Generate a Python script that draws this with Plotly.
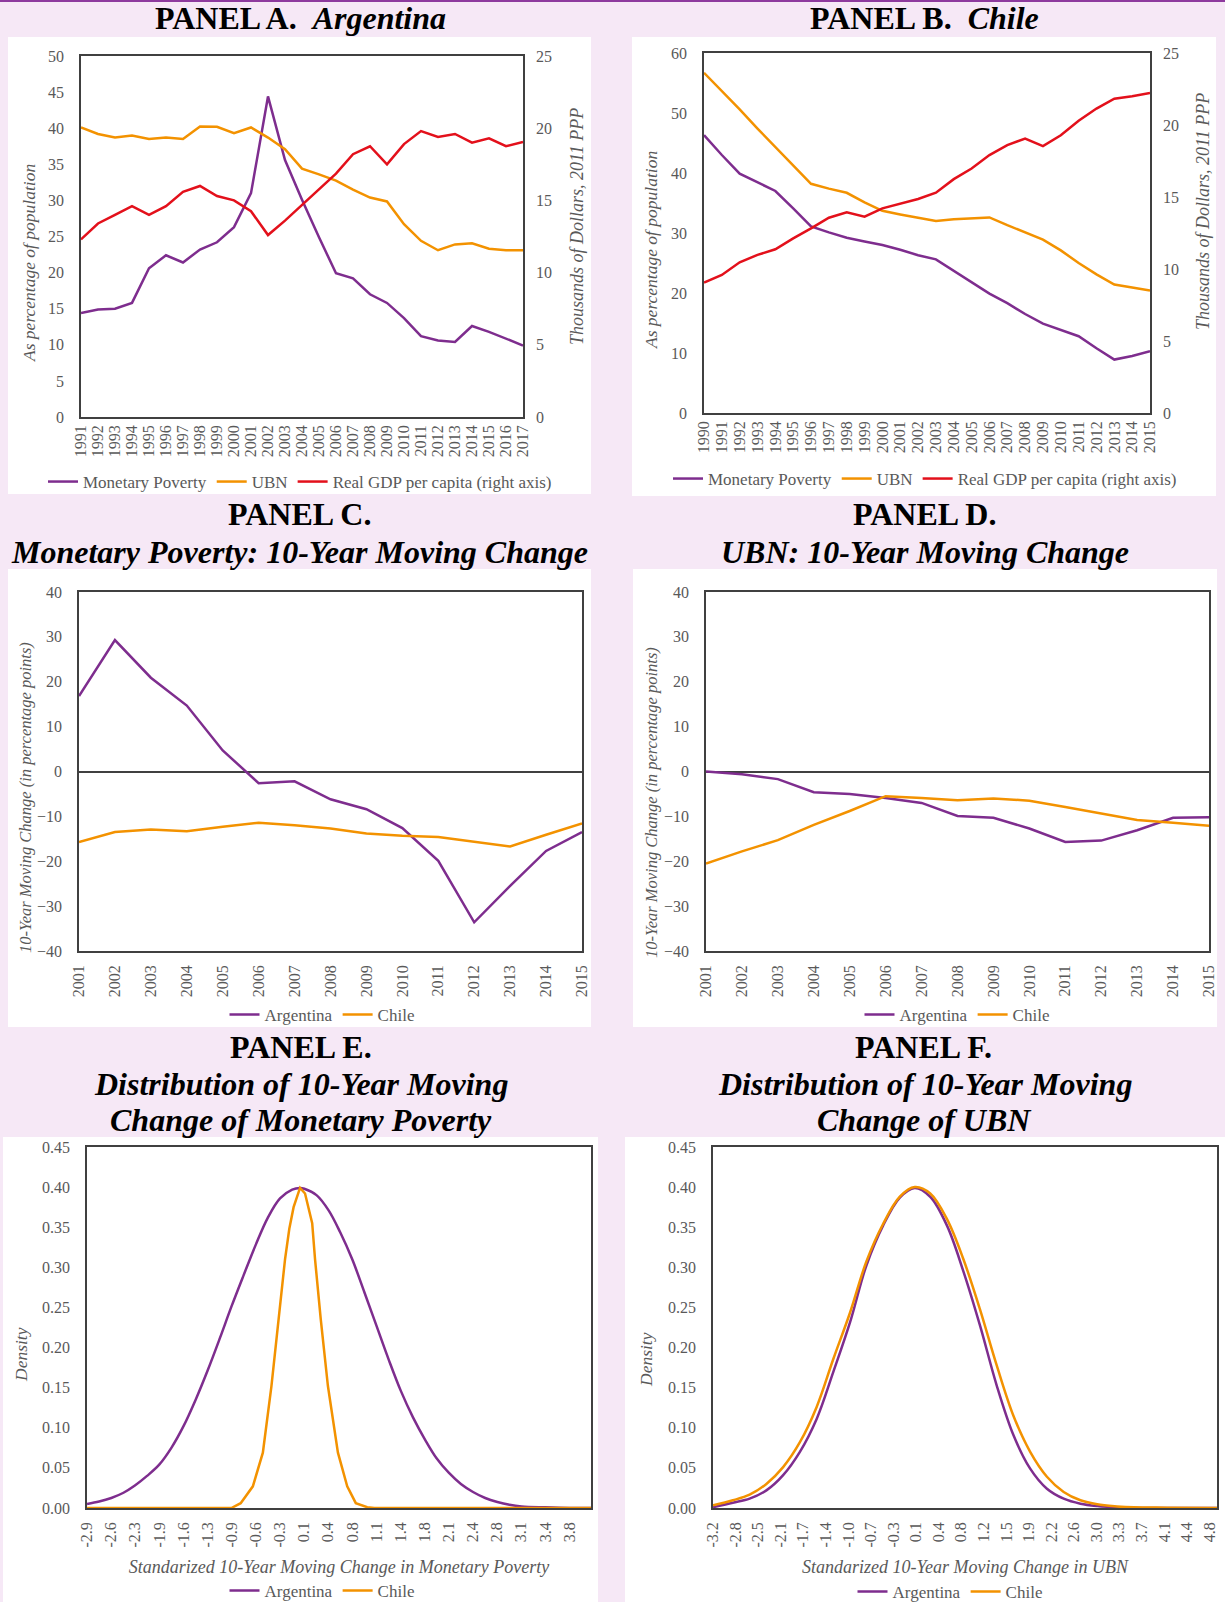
import plotly.graph_objects as go

# ---- data ----
years_a = [str(y) for y in range(1991, 2018)]
arg_poverty = [14.4, 14.9, 15.0, 15.8, 20.6, 22.4, 21.4, 23.2, 24.2, 26.3, 31.0, 44.4, 35.6, 30.1,
               24.9, 19.9, 19.2, 17.0, 15.8, 13.7, 11.2, 10.6, 10.4, 12.6, 11.8, 10.8, 9.9]
arg_ubn = [40.1, 39.2, 38.7, 39.0, 38.5, 38.7, 38.5, 40.25, 40.2, 39.3, 40.1, 38.7, 37.1, 34.4,
           33.6, 32.75, 31.5, 30.4, 29.85, 26.7, 24.4, 23.1, 23.9, 24.05, 23.3, 23.1, 23.1]
arg_gdp = [12.3, 13.4, 14.0, 14.6, 14.0, 14.6, 15.6, 16.0, 15.3, 15.0, 14.25, 12.6, 13.6, 14.7,
           15.8, 16.85, 18.2, 18.75, 17.5, 18.9, 19.8, 19.4, 19.6, 19.0, 19.3, 18.75, 19.05]

years_b = [str(y) for y in range(1990, 2016)]
chl_poverty = [46.3, 43.0, 39.9, 38.4, 37.0, 34.1, 31.1, 30.1, 29.2, 28.6, 28.0, 27.2, 26.3,
               25.6, 23.7, 21.8, 19.9, 18.3, 16.5, 14.9, 13.9, 12.8, 10.8, 8.9, 9.5, 10.3]
chl_ubn = [56.7, 53.7, 50.6, 47.4, 44.3, 41.2, 38.2, 37.4, 36.7, 35.1, 33.7, 33.1, 32.6,
           32.0, 32.3, 32.4, 32.6, 31.3, 30.1, 28.9, 27.1, 25.0, 23.1, 21.4, 20.9, 20.4]
chl_gdp = [9.06, 9.59, 10.47, 10.98, 11.37, 12.13, 12.82, 13.56, 13.93, 13.63, 14.21, 14.51, 14.86,
           15.30, 16.24, 16.98, 17.91, 18.60, 19.06, 18.53, 19.29, 20.29, 21.14, 21.83, 22.0, 22.23]

years_c = [str(y) for y in range(2001, 2016)]
mp_change_arg = [16.8, 29.3, 20.9, 14.7, 4.7, -2.6, -2.2, -6.2, -8.4, -12.6, -19.9, -33.6, -25.5, -17.7, -13.5]
mp_change_chl = [-15.7, -13.5, -12.9, -13.3, -12.3, -11.4, -12.0, -12.7, -13.8, -14.3, -14.6, -15.6, -16.7, -14.1, -11.6]
ubn_change_arg = [0.0, -0.6, -1.7, -4.6, -5.0, -5.9, -7.0, -9.9, -10.3, -12.7, -15.7, -15.4, -13.1, -10.3, -10.2]
ubn_change_chl = [-20.5, -17.8, -15.3, -11.9, -8.8, -5.5, -5.9, -6.4, -6.0, -6.5, -7.9, -9.4, -10.8, -11.4, -12.1]

# Panel E densities
e_arg_x = [-2.93, -2.76, -2.59, -2.42, -2.26, -2.09, -1.92, -1.75, -1.58, -1.41, -1.24, -1.07, -0.91, -0.74,
           -0.57, -0.40, -0.23, -0.06, 0.05, 0.11, 0.28, 0.45, 0.61, 0.78, 0.95, 1.12, 1.29, 1.46, 1.63,
           1.80, 1.96, 2.13, 2.30, 2.47, 2.64, 2.81, 2.98, 3.15, 3.48, 3.82, 4.12]
e_arg_y = [0.005, 0.008, 0.0125, 0.019, 0.028, 0.040, 0.054, 0.075, 0.102, 0.135, 0.172, 0.212, 0.251, 0.290,
           0.328, 0.362, 0.386, 0.397, 0.399, 0.398, 0.390, 0.371, 0.344, 0.310, 0.269, 0.227, 0.185, 0.146,
           0.113, 0.085, 0.062, 0.044, 0.030, 0.020, 0.0125, 0.0075, 0.004, 0.002, 0.0008, 0.0, 0.0]
e_chl_x = [-2.93, -0.91, -0.78, -0.61, -0.47, -0.35, -0.25, -0.16, -0.10, -0.04, 0.05, 0.12, 0.22, 0.26,
           0.34, 0.44, 0.58, 0.71, 0.83, 0.99, 1.09, 4.12]
e_chl_y = [0.0, 0.0, 0.006, 0.027, 0.069, 0.152, 0.235, 0.310, 0.348, 0.375, 0.399, 0.392, 0.355, 0.310,
           0.235, 0.152, 0.069, 0.027, 0.006, 0.001, 0.0, 0.0]
e_ticktext = ["-2.9", "-2.6", "-2.3", "-1.9", "-1.6", "-1.3", "-0.9", "-0.6", "-0.3", "0.1", "0.4",
              "0.8", "1.1", "1.4", "1.8", "2.1", "2.4", "2.8", "3.1", "3.4", "3.8"]

# Panel F densities
f_x = [-3.20, -2.88, -2.61, -2.34, -2.07, -1.80, -1.53, -1.26, -0.99, -0.73, -0.46, -0.19, 0.05, 0.30,
       0.57, 0.83, 1.10, 1.37, 1.64, 1.91, 2.18, 2.45, 2.72, 2.99, 3.31, 3.58, 4.12, 4.92]
f_arg_y = [0.001, 0.0066, 0.0116, 0.022, 0.041, 0.070, 0.111, 0.170, 0.232, 0.302, 0.352, 0.387, 0.399, 0.388,
           0.352, 0.296, 0.228, 0.153, 0.091, 0.049, 0.024, 0.0116, 0.0054, 0.0025, 0.0008, 0.0, 0.0, 0.0]
f_chl_y = [0.0033, 0.0096, 0.0166, 0.030, 0.051, 0.082, 0.126, 0.186, 0.244, 0.307, 0.354, 0.388, 0.400, 0.392,
           0.360, 0.311, 0.248, 0.178, 0.115, 0.070, 0.039, 0.020, 0.0096, 0.0046, 0.002, 0.0008, 0.0004, 0.0]
f_ticktext = ["-3.2", "-2.8", "-2.5", "-2.1", "-1.7", "-1.4", "-1.0", "-0.7", "-0.3", "0.1", "0.4", "0.8",
              "1.2", "1.5", "1.9", "2.2", "2.6", "3.0", "3.3", "3.7", "4.1", "4.4", "4.8"]

# ---- layout helpers ----
W, H = 1225, 1602
FONT = "Liberation Serif"
PURPLE = "#7E2D8E"
ORANGE = "#F39200"
RED = "#E3101B"
BG = "#F6E8F6"
FRAME = "#404040"
TICK = "#595959"


def dom_x(left, right):
    return [left / W, right / W]


def dom_y(top, bottom):
    return [1 - bottom / H, 1 - top / H]


fig = go.Figure()


def add_line(x, y, name, color, xa, ya, legend, shape="linear"):
    fig.add_trace(go.Scatter(x=x, y=y, name=name, mode="lines",
                             line=dict(color=color, width=2.5, shape=shape),
                             xaxis=xa, yaxis=ya, legend=legend))


add_line(years_a, arg_poverty, "Monetary Poverty", PURPLE, "x", "y", "legend")
add_line(years_a, arg_ubn, "UBN", ORANGE, "x", "y", "legend")
add_line(years_a, arg_gdp, "Real GDP per capita (right axis)", RED, "x", "y2", "legend")

add_line(years_b, chl_poverty, "Monetary Poverty", PURPLE, "x2", "y3", "legend2")
add_line(years_b, chl_ubn, "UBN", ORANGE, "x2", "y3", "legend2")
add_line(years_b, chl_gdp, "Real GDP per capita (right axis)", RED, "x2", "y4", "legend2")

add_line(years_c, mp_change_arg, "Argentina", PURPLE, "x3", "y5", "legend3")
add_line(years_c, mp_change_chl, "Chile", ORANGE, "x3", "y5", "legend3")

add_line(years_c, ubn_change_arg, "Argentina", PURPLE, "x4", "y6", "legend4")
add_line(years_c, ubn_change_chl, "Chile", ORANGE, "x4", "y6", "legend4")

add_line(e_arg_x, e_arg_y, "Argentina", PURPLE, "x5", "y7", "legend5", "spline")
add_line(e_chl_x, e_chl_y, "Chile", ORANGE, "x5", "y7", "legend5")

add_line(f_x, f_arg_y, "Argentina", PURPLE, "x6", "y8", "legend6", "spline")
add_line(f_x, f_chl_y, "Chile", ORANGE, "x6", "y8", "legend6", "spline")

frame = dict(showline=True, linecolor=FRAME, linewidth=1.5, mirror=True, showgrid=False,
             zeroline=False, ticks="", automargin=False, tickfont=dict(size=16, color=TICK))
years_font = dict(size=16, color=TICK)

# plot rectangles in page pixels
A = (81, 523, 56, 417)
B = (704, 1150, 53, 413)
C = (79, 582, 592, 951)
D = (706, 1209, 592, 951)
E = (87, 591, 1147, 1508)
F = (713, 1217, 1147, 1508)

layout_axes = dict(
    xaxis=dict(domain=dom_x(A[0], A[1]), anchor="y", type="category", tickangle=-90,
               tickmode="linear", dtick=1, **{**frame, "tickfont": years_font}),
    yaxis=dict(domain=dom_y(A[2], A[3]), anchor="x", range=[0, 50], dtick=5,
               ticklabelstandoff=12, **frame),
    yaxis2=dict(overlaying="y", anchor="x", side="right", range=[0, 25], dtick=5, showgrid=False,
                zeroline=False, automargin=False, ticklabelstandoff=12, tickfont=dict(size=16, color=TICK)),
    xaxis2=dict(domain=dom_x(B[0], B[1]), anchor="y3", type="category", tickangle=-90,
                tickmode="linear", dtick=1, **{**frame, "tickfont": years_font}),
    yaxis3=dict(domain=dom_y(B[2], B[3]), anchor="x2", range=[0, 60], dtick=10,
                ticklabelstandoff=12, **frame),
    yaxis4=dict(overlaying="y3", anchor="x2", side="right", range=[0, 25], dtick=5, showgrid=False,
                zeroline=False, automargin=False, ticklabelstandoff=12, tickfont=dict(size=16, color=TICK)),
    xaxis3=dict(domain=dom_x(C[0], C[1]), anchor="y5", type="category", tickangle=-90,
                tickmode="linear", dtick=1, ticklabelstandoff=6, **frame),
    yaxis5=dict(domain=dom_y(C[2], C[3]), anchor="x3", range=[-40, 40], dtick=10, ticklabelstandoff=12,
                **{**frame, "zeroline": True}, zerolinecolor=FRAME, zerolinewidth=1.5),
    xaxis4=dict(domain=dom_x(D[0], D[1]), anchor="y6", type="category", tickangle=-90,
                tickmode="linear", dtick=1, ticklabelstandoff=6, **frame),
    yaxis6=dict(domain=dom_y(D[2], D[3]), anchor="x4", range=[-40, 40], dtick=10, ticklabelstandoff=12,
                **{**frame, "zeroline": True}, zerolinecolor=FRAME, zerolinewidth=1.5),
    xaxis5=dict(domain=dom_x(E[0], E[1]), anchor="y7", range=[-2.93, 4.12],
                tickvals=[-2.93 + 0.3375 * i for i in range(len(e_ticktext))], ticktext=e_ticktext,
                tickangle=-90, ticklabelstandoff=6,
                title=dict(text="<i>Standarized 10-Year Moving Change in Monetary Poverty</i>",
                           font=dict(size=18, color=TICK), standoff=14), **frame),
    yaxis7=dict(domain=dom_y(E[2], E[3]), anchor="x5", range=[0, 0.45], dtick=0.05, tickformat=".2f",
                ticklabelstandoff=12, **frame),
    xaxis6=dict(domain=dom_x(F[0], F[1]), anchor="y8", range=[-3.2, 4.92],
                tickvals=[-3.2 + 0.3636 * i for i in range(len(f_ticktext))], ticktext=f_ticktext,
                tickangle=-90, ticklabelstandoff=6,
                title=dict(text="<i>Standarized 10-Year Moving Change in UBN</i>",
                           font=dict(size=18, color=TICK), standoff=14), **frame),
    yaxis8=dict(domain=dom_y(F[2], F[3]), anchor="x6", range=[0, 0.45], dtick=0.05, tickformat=".2f",
                ticklabelstandoff=12, **frame),
)

# tick marks sitting on the zero line of panels C and D (category boundaries)
for xa, ya, rect in (("xaxis7", "yaxis9", C), ("xaxis8", "yaxis10", D)):
    mid = (rect[2] + rect[3]) / 2
    layout_axes[xa] = dict(domain=dom_x(rect[0], rect[1]), anchor=ya.replace("axis", ""), side="top",
                           range=[-0.5, len(years_c) - 0.5],
                           tickvals=[i + 0.5 for i in range(len(years_c) - 1)],
                           ticks="inside", ticklen=6, tickwidth=1.5, tickcolor=FRAME,
                           showticklabels=False, showline=False, showgrid=False, zeroline=False,
                           automargin=False)
    layout_axes[ya] = dict(domain=dom_y(mid, rect[3]), anchor=xa.replace("axis", ""),
                           range=[0, 1], visible=False)

legend_base = dict(orientation="h", xanchor="center", yanchor="middle", bgcolor="rgba(0,0,0,0)",
                   font=dict(size=17, color=TICK, family=FONT))
legends = {
    "legend": dict(x=300 / W, y=1 - 482 / H, **legend_base),
    "legend2": dict(x=925 / W, y=1 - 479 / H, **legend_base),
    "legend3": dict(x=322 / W, y=1 - 1015 / H, **legend_base),
    "legend4": dict(x=957 / W, y=1 - 1015 / H, **legend_base),
    "legend5": dict(x=322 / W, y=1 - 1591 / H, **legend_base),
    "legend6": dict(x=950 / W, y=1 - 1592 / H, **legend_base),
}

# white chart areas and the thin purple rule on top
shapes = [dict(type="rect", xref="paper", yref="paper", x0=0, x1=1, y0=1 - 2 / H, y1=1,
               fillcolor="#8E3A9E", line_width=0, layer="below")]
for left, right, top, bottom in ((8, 591, 37, 494), (632, 1216, 37, 496), (8, 591, 569, 1027),
                                 (633, 1217, 569, 1027), (3, 598, 1137, 1602), (625, 1225, 1137, 1602)):
    shapes.append(dict(type="rect", xref="paper", yref="paper", x0=left / W, x1=right / W,
                       y0=1 - bottom / H, y1=1 - top / H, fillcolor="white", line_width=0, layer="below"))

# panel titles
NB = "\u00a0\u00a0"
titles = [
    (300, 18, "<b>PANEL A.</b>" + NB + "<b><i>Argentina</i></b>"),
    (925, 18, "<b>PANEL B.</b>" + NB + "<b><i>Chile</i></b>"),
    (299, 514, "<b>PANEL C.</b>"),
    (299, 552, "<b><i>Monetary Poverty: 10-Year Moving Change</i></b>"),
    (925, 514, "<b>PANEL D.</b>"),
    (925, 552, "<b><i>UBN: 10-Year Moving Change</i></b>"),
    (301, 1047, "<b>PANEL E.</b>"),
    (301, 1084, "<b><i>Distribution of 10-Year Moving</i></b>"),
    (301, 1120, "<b><i>Change of Monetary Poverty</i></b>"),
    (923, 1047, "<b>PANEL F.</b>"),
    (925, 1084, "<b><i>Distribution of 10-Year Moving</i></b>"),
    (925, 1120, "<b><i>Change of UBN</i></b>"),
]
annotations = [dict(x=tx / W, y=1 - ty / H, xref="paper", yref="paper", text=t, showarrow=False,
                    xanchor="center", yanchor="middle", font=dict(size=32, color="black", family=FONT))
               for tx, ty, t in titles]

# vertical axis titles, placed where they sit in the original
axis_titles = [
    (29, 263, 17.5, "As percentage of population"),
    (577, 227, 18, "Thousands of Dollars, 2011 PPP"),
    (651, 250, 17.5, "As percentage of population"),
    (1203, 212, 18, "Thousands of Dollars, 2011 PPP"),
    (25, 798, 16.5, "10-Year Moving Change (in percentage points)"),
    (651, 803, 16.5, "10-Year Moving Change (in percentage points)"),
    (21, 1355, 17.5, "Density"),
    (646, 1360, 17.5, "Density"),
]
annotations += [dict(x=tx / W, y=1 - ty / H, xref="paper", yref="paper", text="<i>" + t + "</i>",
                     showarrow=False, textangle=-90, xanchor="center", yanchor="middle",
                     font=dict(size=s, color=TICK, family=FONT))
                for tx, ty, s, t in axis_titles]

fig.update_layout(
    width=W, height=H,
    margin=dict(l=0, r=0, t=0, b=0, autoexpand=False),
    paper_bgcolor=BG, plot_bgcolor="white",
    font=dict(family=FONT, color=TICK),
    shapes=shapes, annotations=annotations,
    **layout_axes, **legends,
)

# no page margin / scrollbars so the figure sits at the window origin
page_css = ("var s=document.createElement('style');"
            "s.textContent='html,body{margin:0!important;padding:0!important;overflow:hidden;}';"
            "document.head.appendChild(s);")
fig.write_html("out.html", config={"displayModeBar": False}, post_script=page_css)
